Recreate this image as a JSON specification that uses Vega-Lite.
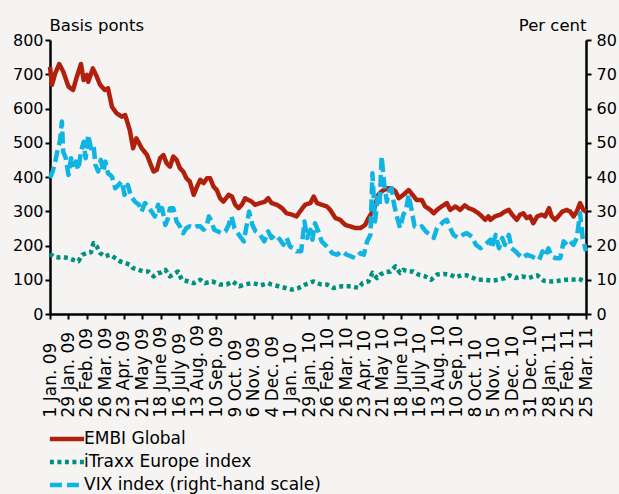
{
  "$schema": "https://vega.github.io/schema/vega-lite/v6.json",
  "width": 536,
  "height": 274,
  "autosize": "none",
  "padding": {"left": 50, "top": 40, "right": 33, "bottom": 180},
  "background": "#F5F4F2",
  "config": {
    "font": "DejaVu Sans",
    "view": {"stroke": null},
    "axis": {
      "domainColor": "#000000",
      "domainWidth": 2.5,
      "tickColor": "#000000",
      "tickWidth": 2,
      "tickSize": 5,
      "labelColor": "#000000",
      "labelFontSize": 16,
      "labelFont": "DejaVu Sans",
      "titleFont": "DejaVu Sans",
      "titleFontSize": 16.5,
      "titleFontWeight": "normal",
      "titleColor": "#000000",
      "grid": false
    },
    "legend": {
      "labelFont": "DejaVu Sans",
      "labelFontSize": 17,
      "labelColor": "#000000",
      "labelLimit": 0
    }
  },
  "datasets": {
    "series": [
      {"date": "2009-01-01", "series": "EMBI Global", "value": 722},
      {"date": "2009-01-04", "series": "EMBI Global", "value": 669},
      {"date": "2009-01-09", "series": "EMBI Global", "value": 703},
      {"date": "2009-01-15", "series": "EMBI Global", "value": 730},
      {"date": "2009-01-21", "series": "EMBI Global", "value": 708},
      {"date": "2009-01-29", "series": "EMBI Global", "value": 664},
      {"date": "2009-02-05", "series": "EMBI Global", "value": 654},
      {"date": "2009-02-10", "series": "EMBI Global", "value": 688},
      {"date": "2009-02-17", "series": "EMBI Global", "value": 730},
      {"date": "2009-02-21", "series": "EMBI Global", "value": 683},
      {"date": "2009-02-26", "series": "EMBI Global", "value": 698},
      {"date": "2009-02-28", "series": "EMBI Global", "value": 678},
      {"date": "2009-03-07", "series": "EMBI Global", "value": 717},
      {"date": "2009-03-13", "series": "EMBI Global", "value": 693},
      {"date": "2009-03-18", "series": "EMBI Global", "value": 669},
      {"date": "2009-03-25", "series": "EMBI Global", "value": 654},
      {"date": "2009-03-30", "series": "EMBI Global", "value": 659},
      {"date": "2009-04-05", "series": "EMBI Global", "value": 605},
      {"date": "2009-04-12", "series": "EMBI Global", "value": 586},
      {"date": "2009-04-20", "series": "EMBI Global", "value": 576},
      {"date": "2009-04-25", "series": "EMBI Global", "value": 581},
      {"date": "2009-05-02", "series": "EMBI Global", "value": 537},
      {"date": "2009-05-07", "series": "EMBI Global", "value": 484},
      {"date": "2009-05-12", "series": "EMBI Global", "value": 513},
      {"date": "2009-05-20", "series": "EMBI Global", "value": 484},
      {"date": "2009-05-28", "series": "EMBI Global", "value": 465},
      {"date": "2009-06-02", "series": "EMBI Global", "value": 440},
      {"date": "2009-06-07", "series": "EMBI Global", "value": 416},
      {"date": "2009-06-12", "series": "EMBI Global", "value": 421},
      {"date": "2009-06-17", "series": "EMBI Global", "value": 455},
      {"date": "2009-06-22", "series": "EMBI Global", "value": 464},
      {"date": "2009-06-27", "series": "EMBI Global", "value": 440},
      {"date": "2009-07-02", "series": "EMBI Global", "value": 430},
      {"date": "2009-07-07", "series": "EMBI Global", "value": 460},
      {"date": "2009-07-12", "series": "EMBI Global", "value": 450},
      {"date": "2009-07-17", "series": "EMBI Global", "value": 426},
      {"date": "2009-07-22", "series": "EMBI Global", "value": 416},
      {"date": "2009-07-27", "series": "EMBI Global", "value": 396},
      {"date": "2009-08-01", "series": "EMBI Global", "value": 387},
      {"date": "2009-08-07", "series": "EMBI Global", "value": 348},
      {"date": "2009-08-12", "series": "EMBI Global", "value": 372},
      {"date": "2009-08-17", "series": "EMBI Global", "value": 392},
      {"date": "2009-08-22", "series": "EMBI Global", "value": 382},
      {"date": "2009-08-27", "series": "EMBI Global", "value": 396},
      {"date": "2009-09-01", "series": "EMBI Global", "value": 396},
      {"date": "2009-09-06", "series": "EMBI Global", "value": 372},
      {"date": "2009-09-11", "series": "EMBI Global", "value": 362},
      {"date": "2009-09-16", "series": "EMBI Global", "value": 338},
      {"date": "2009-09-21", "series": "EMBI Global", "value": 328},
      {"date": "2009-09-29", "series": "EMBI Global", "value": 348},
      {"date": "2009-10-04", "series": "EMBI Global", "value": 343},
      {"date": "2009-10-09", "series": "EMBI Global", "value": 319},
      {"date": "2009-10-14", "series": "EMBI Global", "value": 309},
      {"date": "2009-10-19", "series": "EMBI Global", "value": 319},
      {"date": "2009-10-24", "series": "EMBI Global", "value": 338},
      {"date": "2009-10-29", "series": "EMBI Global", "value": 333},
      {"date": "2009-11-03", "series": "EMBI Global", "value": 328},
      {"date": "2009-11-08", "series": "EMBI Global", "value": 319},
      {"date": "2009-11-16", "series": "EMBI Global", "value": 324},
      {"date": "2009-11-23", "series": "EMBI Global", "value": 328},
      {"date": "2009-11-28", "series": "EMBI Global", "value": 338},
      {"date": "2009-12-03", "series": "EMBI Global", "value": 324},
      {"date": "2009-12-11", "series": "EMBI Global", "value": 319},
      {"date": "2009-12-19", "series": "EMBI Global", "value": 309},
      {"date": "2009-12-26", "series": "EMBI Global", "value": 294},
      {"date": "2010-01-03", "series": "EMBI Global", "value": 290},
      {"date": "2010-01-10", "series": "EMBI Global", "value": 285},
      {"date": "2010-01-15", "series": "EMBI Global", "value": 299},
      {"date": "2010-01-23", "series": "EMBI Global", "value": 319},
      {"date": "2010-01-31", "series": "EMBI Global", "value": 324},
      {"date": "2010-02-05", "series": "EMBI Global", "value": 343},
      {"date": "2010-02-10", "series": "EMBI Global", "value": 324},
      {"date": "2010-02-17", "series": "EMBI Global", "value": 319},
      {"date": "2010-02-25", "series": "EMBI Global", "value": 314},
      {"date": "2010-03-02", "series": "EMBI Global", "value": 304},
      {"date": "2010-03-10", "series": "EMBI Global", "value": 280},
      {"date": "2010-03-17", "series": "EMBI Global", "value": 275},
      {"date": "2010-03-25", "series": "EMBI Global", "value": 260},
      {"date": "2010-04-01", "series": "EMBI Global", "value": 256},
      {"date": "2010-04-09", "series": "EMBI Global", "value": 251},
      {"date": "2010-04-17", "series": "EMBI Global", "value": 251},
      {"date": "2010-04-24", "series": "EMBI Global", "value": 260},
      {"date": "2010-04-29", "series": "EMBI Global", "value": 280},
      {"date": "2010-05-07", "series": "EMBI Global", "value": 304},
      {"date": "2010-05-14", "series": "EMBI Global", "value": 348},
      {"date": "2010-05-19", "series": "EMBI Global", "value": 358},
      {"date": "2010-05-27", "series": "EMBI Global", "value": 367},
      {"date": "2010-06-03", "series": "EMBI Global", "value": 367},
      {"date": "2010-06-09", "series": "EMBI Global", "value": 358},
      {"date": "2010-06-14", "series": "EMBI Global", "value": 338},
      {"date": "2010-06-21", "series": "EMBI Global", "value": 348},
      {"date": "2010-06-29", "series": "EMBI Global", "value": 362},
      {"date": "2010-07-05", "series": "EMBI Global", "value": 348},
      {"date": "2010-07-11", "series": "EMBI Global", "value": 333},
      {"date": "2010-07-19", "series": "EMBI Global", "value": 333},
      {"date": "2010-07-24", "series": "EMBI Global", "value": 314},
      {"date": "2010-08-01", "series": "EMBI Global", "value": 304},
      {"date": "2010-08-06", "series": "EMBI Global", "value": 294},
      {"date": "2010-08-11", "series": "EMBI Global", "value": 304},
      {"date": "2010-08-18", "series": "EMBI Global", "value": 314},
      {"date": "2010-08-26", "series": "EMBI Global", "value": 324},
      {"date": "2010-08-31", "series": "EMBI Global", "value": 304},
      {"date": "2010-09-08", "series": "EMBI Global", "value": 314},
      {"date": "2010-09-15", "series": "EMBI Global", "value": 304},
      {"date": "2010-09-22", "series": "EMBI Global", "value": 317},
      {"date": "2010-09-28", "series": "EMBI Global", "value": 309},
      {"date": "2010-10-05", "series": "EMBI Global", "value": 304},
      {"date": "2010-10-13", "series": "EMBI Global", "value": 294},
      {"date": "2010-10-18", "series": "EMBI Global", "value": 285},
      {"date": "2010-10-23", "series": "EMBI Global", "value": 275},
      {"date": "2010-10-28", "series": "EMBI Global", "value": 285},
      {"date": "2010-10-31", "series": "EMBI Global", "value": 275},
      {"date": "2010-11-07", "series": "EMBI Global", "value": 285},
      {"date": "2010-11-15", "series": "EMBI Global", "value": 290},
      {"date": "2010-11-22", "series": "EMBI Global", "value": 299},
      {"date": "2010-11-28", "series": "EMBI Global", "value": 304},
      {"date": "2010-12-03", "series": "EMBI Global", "value": 290},
      {"date": "2010-12-10", "series": "EMBI Global", "value": 275},
      {"date": "2010-12-15", "series": "EMBI Global", "value": 290},
      {"date": "2010-12-20", "series": "EMBI Global", "value": 294},
      {"date": "2010-12-25", "series": "EMBI Global", "value": 280},
      {"date": "2010-12-30", "series": "EMBI Global", "value": 285},
      {"date": "2011-01-04", "series": "EMBI Global", "value": 265},
      {"date": "2011-01-10", "series": "EMBI Global", "value": 285},
      {"date": "2011-01-17", "series": "EMBI Global", "value": 290},
      {"date": "2011-01-22", "series": "EMBI Global", "value": 285},
      {"date": "2011-01-28", "series": "EMBI Global", "value": 309},
      {"date": "2011-02-01", "series": "EMBI Global", "value": 285},
      {"date": "2011-02-06", "series": "EMBI Global", "value": 275},
      {"date": "2011-02-11", "series": "EMBI Global", "value": 285},
      {"date": "2011-02-17", "series": "EMBI Global", "value": 299},
      {"date": "2011-02-24", "series": "EMBI Global", "value": 304},
      {"date": "2011-03-01", "series": "EMBI Global", "value": 299},
      {"date": "2011-03-06", "series": "EMBI Global", "value": 285},
      {"date": "2011-03-11", "series": "EMBI Global", "value": 299},
      {"date": "2011-03-16", "series": "EMBI Global", "value": 324},
      {"date": "2011-03-21", "series": "EMBI Global", "value": 304},
      {"date": "2011-03-25", "series": "EMBI Global", "value": 299},
      {"date": "2009-01-01", "series": "iTraxx Europe index", "value": 176},
      {"date": "2009-01-06", "series": "iTraxx Europe index", "value": 168},
      {"date": "2009-01-14", "series": "iTraxx Europe index", "value": 165},
      {"date": "2009-01-21", "series": "iTraxx Europe index", "value": 166},
      {"date": "2009-01-29", "series": "iTraxx Europe index", "value": 163},
      {"date": "2009-02-05", "series": "iTraxx Europe index", "value": 158},
      {"date": "2009-02-13", "series": "iTraxx Europe index", "value": 154},
      {"date": "2009-02-19", "series": "iTraxx Europe index", "value": 173},
      {"date": "2009-02-26", "series": "iTraxx Europe index", "value": 178},
      {"date": "2009-03-04", "series": "iTraxx Europe index", "value": 180},
      {"date": "2009-03-08", "series": "iTraxx Europe index", "value": 207},
      {"date": "2009-03-13", "series": "iTraxx Europe index", "value": 197},
      {"date": "2009-03-18", "series": "iTraxx Europe index", "value": 178},
      {"date": "2009-03-25", "series": "iTraxx Europe index", "value": 168},
      {"date": "2009-04-02", "series": "iTraxx Europe index", "value": 173},
      {"date": "2009-04-10", "series": "iTraxx Europe index", "value": 163},
      {"date": "2009-04-17", "series": "iTraxx Europe index", "value": 154},
      {"date": "2009-04-25", "series": "iTraxx Europe index", "value": 149},
      {"date": "2009-05-02", "series": "iTraxx Europe index", "value": 144},
      {"date": "2009-05-07", "series": "iTraxx Europe index", "value": 134},
      {"date": "2009-05-15", "series": "iTraxx Europe index", "value": 129},
      {"date": "2009-05-23", "series": "iTraxx Europe index", "value": 124},
      {"date": "2009-05-30", "series": "iTraxx Europe index", "value": 124},
      {"date": "2009-06-07", "series": "iTraxx Europe index", "value": 110},
      {"date": "2009-06-14", "series": "iTraxx Europe index", "value": 120},
      {"date": "2009-06-17", "series": "iTraxx Europe index", "value": 120},
      {"date": "2009-06-25", "series": "iTraxx Europe index", "value": 129},
      {"date": "2009-07-02", "series": "iTraxx Europe index", "value": 110},
      {"date": "2009-07-14", "series": "iTraxx Europe index", "value": 124},
      {"date": "2009-07-20", "series": "iTraxx Europe index", "value": 100},
      {"date": "2009-07-30", "series": "iTraxx Europe index", "value": 95},
      {"date": "2009-08-07", "series": "iTraxx Europe index", "value": 90},
      {"date": "2009-08-17", "series": "iTraxx Europe index", "value": 100},
      {"date": "2009-08-24", "series": "iTraxx Europe index", "value": 90},
      {"date": "2009-09-04", "series": "iTraxx Europe index", "value": 95},
      {"date": "2009-09-16", "series": "iTraxx Europe index", "value": 86},
      {"date": "2009-09-26", "series": "iTraxx Europe index", "value": 86},
      {"date": "2009-10-05", "series": "iTraxx Europe index", "value": 95},
      {"date": "2009-10-15", "series": "iTraxx Europe index", "value": 81},
      {"date": "2009-10-25", "series": "iTraxx Europe index", "value": 87},
      {"date": "2009-11-05", "series": "iTraxx Europe index", "value": 90},
      {"date": "2009-11-17", "series": "iTraxx Europe index", "value": 84},
      {"date": "2009-11-28", "series": "iTraxx Europe index", "value": 90},
      {"date": "2009-12-03", "series": "iTraxx Europe index", "value": 86},
      {"date": "2009-12-14", "series": "iTraxx Europe index", "value": 81},
      {"date": "2009-12-24", "series": "iTraxx Europe index", "value": 76},
      {"date": "2010-01-03", "series": "iTraxx Europe index", "value": 71},
      {"date": "2010-01-13", "series": "iTraxx Europe index", "value": 76},
      {"date": "2010-01-23", "series": "iTraxx Europe index", "value": 86},
      {"date": "2010-02-05", "series": "iTraxx Europe index", "value": 95},
      {"date": "2010-02-15", "series": "iTraxx Europe index", "value": 87},
      {"date": "2010-02-25", "series": "iTraxx Europe index", "value": 86},
      {"date": "2010-03-07", "series": "iTraxx Europe index", "value": 76},
      {"date": "2010-03-20", "series": "iTraxx Europe index", "value": 81},
      {"date": "2010-04-04", "series": "iTraxx Europe index", "value": 81},
      {"date": "2010-04-14", "series": "iTraxx Europe index", "value": 76},
      {"date": "2010-04-20", "series": "iTraxx Europe index", "value": 90},
      {"date": "2010-04-29", "series": "iTraxx Europe index", "value": 95},
      {"date": "2010-05-05", "series": "iTraxx Europe index", "value": 120},
      {"date": "2010-05-12", "series": "iTraxx Europe index", "value": 105},
      {"date": "2010-05-17", "series": "iTraxx Europe index", "value": 115},
      {"date": "2010-05-24", "series": "iTraxx Europe index", "value": 122},
      {"date": "2010-06-01", "series": "iTraxx Europe index", "value": 124},
      {"date": "2010-06-09", "series": "iTraxx Europe index", "value": 139},
      {"date": "2010-06-16", "series": "iTraxx Europe index", "value": 120},
      {"date": "2010-06-21", "series": "iTraxx Europe index", "value": 129},
      {"date": "2010-06-29", "series": "iTraxx Europe index", "value": 124},
      {"date": "2010-07-06", "series": "iTraxx Europe index", "value": 124},
      {"date": "2010-07-14", "series": "iTraxx Europe index", "value": 115},
      {"date": "2010-07-24", "series": "iTraxx Europe index", "value": 110},
      {"date": "2010-08-02", "series": "iTraxx Europe index", "value": 100},
      {"date": "2010-08-11", "series": "iTraxx Europe index", "value": 115},
      {"date": "2010-08-21", "series": "iTraxx Europe index", "value": 117},
      {"date": "2010-08-31", "series": "iTraxx Europe index", "value": 115},
      {"date": "2010-09-08", "series": "iTraxx Europe index", "value": 107},
      {"date": "2010-09-17", "series": "iTraxx Europe index", "value": 113},
      {"date": "2010-09-25", "series": "iTraxx Europe index", "value": 113},
      {"date": "2010-10-03", "series": "iTraxx Europe index", "value": 107},
      {"date": "2010-10-11", "series": "iTraxx Europe index", "value": 100},
      {"date": "2010-10-21", "series": "iTraxx Europe index", "value": 100},
      {"date": "2010-11-02", "series": "iTraxx Europe index", "value": 97},
      {"date": "2010-11-12", "series": "iTraxx Europe index", "value": 100},
      {"date": "2010-11-22", "series": "iTraxx Europe index", "value": 105},
      {"date": "2010-11-29", "series": "iTraxx Europe index", "value": 113},
      {"date": "2010-12-08", "series": "iTraxx Europe index", "value": 105},
      {"date": "2010-12-18", "series": "iTraxx Europe index", "value": 110},
      {"date": "2010-12-28", "series": "iTraxx Europe index", "value": 105},
      {"date": "2011-01-10", "series": "iTraxx Europe index", "value": 113},
      {"date": "2011-01-20", "series": "iTraxx Europe index", "value": 97},
      {"date": "2011-02-01", "series": "iTraxx Europe index", "value": 95},
      {"date": "2011-02-11", "series": "iTraxx Europe index", "value": 97},
      {"date": "2011-02-22", "series": "iTraxx Europe index", "value": 100},
      {"date": "2011-03-04", "series": "iTraxx Europe index", "value": 100},
      {"date": "2011-03-14", "series": "iTraxx Europe index", "value": 103},
      {"date": "2011-03-24", "series": "iTraxx Europe index", "value": 95},
      {"date": "2009-01-01", "series": "VIX index (right-hand scale)", "value": 39.7},
      {"date": "2009-01-05", "series": "VIX index (right-hand scale)", "value": 41.6},
      {"date": "2009-01-09", "series": "VIX index (right-hand scale)", "value": 44.5},
      {"date": "2009-01-13", "series": "VIX index (right-hand scale)", "value": 48.4},
      {"date": "2009-01-16", "series": "VIX index (right-hand scale)", "value": 50.3},
      {"date": "2009-01-19", "series": "VIX index (right-hand scale)", "value": 56.2},
      {"date": "2009-01-21", "series": "VIX index (right-hand scale)", "value": 47.4},
      {"date": "2009-01-25", "series": "VIX index (right-hand scale)", "value": 45.5},
      {"date": "2009-01-29", "series": "VIX index (right-hand scale)", "value": 40.6},
      {"date": "2009-02-02", "series": "VIX index (right-hand scale)", "value": 45.5},
      {"date": "2009-02-05", "series": "VIX index (right-hand scale)", "value": 43.5},
      {"date": "2009-02-09", "series": "VIX index (right-hand scale)", "value": 44.5},
      {"date": "2009-02-13", "series": "VIX index (right-hand scale)", "value": 42.1},
      {"date": "2009-02-17", "series": "VIX index (right-hand scale)", "value": 47.4},
      {"date": "2009-02-21", "series": "VIX index (right-hand scale)", "value": 50.3},
      {"date": "2009-02-24", "series": "VIX index (right-hand scale)", "value": 45.5},
      {"date": "2009-02-28", "series": "VIX index (right-hand scale)", "value": 52.3},
      {"date": "2009-03-04", "series": "VIX index (right-hand scale)", "value": 48.4},
      {"date": "2009-03-08", "series": "VIX index (right-hand scale)", "value": 49.4},
      {"date": "2009-03-11", "series": "VIX index (right-hand scale)", "value": 43.5},
      {"date": "2009-03-15", "series": "VIX index (right-hand scale)", "value": 41.6},
      {"date": "2009-03-19", "series": "VIX index (right-hand scale)", "value": 45},
      {"date": "2009-03-23", "series": "VIX index (right-hand scale)", "value": 41.6},
      {"date": "2009-03-26", "series": "VIX index (right-hand scale)", "value": 44.5},
      {"date": "2009-03-30", "series": "VIX index (right-hand scale)", "value": 41.1},
      {"date": "2009-04-05", "series": "VIX index (right-hand scale)", "value": 40.1},
      {"date": "2009-04-10", "series": "VIX index (right-hand scale)", "value": 36.7},
      {"date": "2009-04-15", "series": "VIX index (right-hand scale)", "value": 37.7},
      {"date": "2009-04-20", "series": "VIX index (right-hand scale)", "value": 38.7},
      {"date": "2009-04-24", "series": "VIX index (right-hand scale)", "value": 34.8},
      {"date": "2009-04-29", "series": "VIX index (right-hand scale)", "value": 37.7},
      {"date": "2009-05-04", "series": "VIX index (right-hand scale)", "value": 34.3},
      {"date": "2009-05-10", "series": "VIX index (right-hand scale)", "value": 32.8},
      {"date": "2009-05-16", "series": "VIX index (right-hand scale)", "value": 31.9},
      {"date": "2009-05-20", "series": "VIX index (right-hand scale)", "value": 29.9},
      {"date": "2009-05-25", "series": "VIX index (right-hand scale)", "value": 32.4},
      {"date": "2009-05-30", "series": "VIX index (right-hand scale)", "value": 31.4},
      {"date": "2009-06-04", "series": "VIX index (right-hand scale)", "value": 29.9},
      {"date": "2009-06-09", "series": "VIX index (right-hand scale)", "value": 28.5},
      {"date": "2009-06-14", "series": "VIX index (right-hand scale)", "value": 31.9},
      {"date": "2009-06-17", "series": "VIX index (right-hand scale)", "value": 29},
      {"date": "2009-06-20", "series": "VIX index (right-hand scale)", "value": 30.9},
      {"date": "2009-06-25", "series": "VIX index (right-hand scale)", "value": 26},
      {"date": "2009-06-29", "series": "VIX index (right-hand scale)", "value": 28},
      {"date": "2009-07-02", "series": "VIX index (right-hand scale)", "value": 30.9},
      {"date": "2009-07-07", "series": "VIX index (right-hand scale)", "value": 30.9},
      {"date": "2009-07-12", "series": "VIX index (right-hand scale)", "value": 27},
      {"date": "2009-07-17", "series": "VIX index (right-hand scale)", "value": 25.6},
      {"date": "2009-07-22", "series": "VIX index (right-hand scale)", "value": 23.6},
      {"date": "2009-07-27", "series": "VIX index (right-hand scale)", "value": 25.1},
      {"date": "2009-08-01", "series": "VIX index (right-hand scale)", "value": 25.6},
      {"date": "2009-08-07", "series": "VIX index (right-hand scale)", "value": 25.1},
      {"date": "2009-08-12", "series": "VIX index (right-hand scale)", "value": 25.6},
      {"date": "2009-08-17", "series": "VIX index (right-hand scale)", "value": 25.6},
      {"date": "2009-08-22", "series": "VIX index (right-hand scale)", "value": 24.6},
      {"date": "2009-08-27", "series": "VIX index (right-hand scale)", "value": 26},
      {"date": "2009-08-30", "series": "VIX index (right-hand scale)", "value": 28.5},
      {"date": "2009-09-03", "series": "VIX index (right-hand scale)", "value": 27},
      {"date": "2009-09-07", "series": "VIX index (right-hand scale)", "value": 24.6},
      {"date": "2009-09-13", "series": "VIX index (right-hand scale)", "value": 24.1},
      {"date": "2009-09-18", "series": "VIX index (right-hand scale)", "value": 23.6},
      {"date": "2009-09-24", "series": "VIX index (right-hand scale)", "value": 24.1},
      {"date": "2009-09-29", "series": "VIX index (right-hand scale)", "value": 26},
      {"date": "2009-10-03", "series": "VIX index (right-hand scale)", "value": 28.5},
      {"date": "2009-10-08", "series": "VIX index (right-hand scale)", "value": 25.1},
      {"date": "2009-10-13", "series": "VIX index (right-hand scale)", "value": 23.6},
      {"date": "2009-10-18", "series": "VIX index (right-hand scale)", "value": 22.2},
      {"date": "2009-10-22", "series": "VIX index (right-hand scale)", "value": 21.2},
      {"date": "2009-10-26", "series": "VIX index (right-hand scale)", "value": 25.6},
      {"date": "2009-10-30", "series": "VIX index (right-hand scale)", "value": 29.9},
      {"date": "2009-11-04", "series": "VIX index (right-hand scale)", "value": 26},
      {"date": "2009-11-09", "series": "VIX index (right-hand scale)", "value": 24.1},
      {"date": "2009-11-16", "series": "VIX index (right-hand scale)", "value": 23.1},
      {"date": "2009-11-22", "series": "VIX index (right-hand scale)", "value": 21.2},
      {"date": "2009-11-28", "series": "VIX index (right-hand scale)", "value": 24.1},
      {"date": "2009-12-03", "series": "VIX index (right-hand scale)", "value": 22.2},
      {"date": "2009-12-09", "series": "VIX index (right-hand scale)", "value": 23.1},
      {"date": "2009-12-16", "series": "VIX index (right-hand scale)", "value": 21.7},
      {"date": "2009-12-21", "series": "VIX index (right-hand scale)", "value": 20.2},
      {"date": "2009-12-26", "series": "VIX index (right-hand scale)", "value": 22.2},
      {"date": "2009-12-31", "series": "VIX index (right-hand scale)", "value": 19.7},
      {"date": "2010-01-05", "series": "VIX index (right-hand scale)", "value": 19.2},
      {"date": "2010-01-10", "series": "VIX index (right-hand scale)", "value": 18.3},
      {"date": "2010-01-17", "series": "VIX index (right-hand scale)", "value": 18.3},
      {"date": "2010-01-22", "series": "VIX index (right-hand scale)", "value": 27},
      {"date": "2010-01-26", "series": "VIX index (right-hand scale)", "value": 22.2},
      {"date": "2010-01-31", "series": "VIX index (right-hand scale)", "value": 24.6},
      {"date": "2010-02-03", "series": "VIX index (right-hand scale)", "value": 21.7},
      {"date": "2010-02-07", "series": "VIX index (right-hand scale)", "value": 26.5},
      {"date": "2010-02-12", "series": "VIX index (right-hand scale)", "value": 24.1},
      {"date": "2010-02-17", "series": "VIX index (right-hand scale)", "value": 21.2},
      {"date": "2010-02-25", "series": "VIX index (right-hand scale)", "value": 19.7},
      {"date": "2010-03-05", "series": "VIX index (right-hand scale)", "value": 17.8},
      {"date": "2010-03-12", "series": "VIX index (right-hand scale)", "value": 17.3},
      {"date": "2010-03-20", "series": "VIX index (right-hand scale)", "value": 18.3},
      {"date": "2010-03-27", "series": "VIX index (right-hand scale)", "value": 17.3},
      {"date": "2010-04-03", "series": "VIX index (right-hand scale)", "value": 16.8},
      {"date": "2010-04-09", "series": "VIX index (right-hand scale)", "value": 16.3},
      {"date": "2010-04-17", "series": "VIX index (right-hand scale)", "value": 17.8},
      {"date": "2010-04-22", "series": "VIX index (right-hand scale)", "value": 17.3},
      {"date": "2010-04-27", "series": "VIX index (right-hand scale)", "value": 21.2},
      {"date": "2010-05-02", "series": "VIX index (right-hand scale)", "value": 23.1},
      {"date": "2010-05-05", "series": "VIX index (right-hand scale)", "value": 41.1},
      {"date": "2010-05-09", "series": "VIX index (right-hand scale)", "value": 27},
      {"date": "2010-05-13", "series": "VIX index (right-hand scale)", "value": 34},
      {"date": "2010-05-16", "series": "VIX index (right-hand scale)", "value": 31.9},
      {"date": "2010-05-19", "series": "VIX index (right-hand scale)", "value": 46},
      {"date": "2010-05-23", "series": "VIX index (right-hand scale)", "value": 37.7},
      {"date": "2010-05-27", "series": "VIX index (right-hand scale)", "value": 32.8},
      {"date": "2010-05-30", "series": "VIX index (right-hand scale)", "value": 35.8},
      {"date": "2010-06-03", "series": "VIX index (right-hand scale)", "value": 36.7},
      {"date": "2010-06-07", "series": "VIX index (right-hand scale)", "value": 31.9},
      {"date": "2010-06-11", "series": "VIX index (right-hand scale)", "value": 28.5},
      {"date": "2010-06-16", "series": "VIX index (right-hand scale)", "value": 25.1},
      {"date": "2010-06-21", "series": "VIX index (right-hand scale)", "value": 29},
      {"date": "2010-06-25", "series": "VIX index (right-hand scale)", "value": 30.4},
      {"date": "2010-06-29", "series": "VIX index (right-hand scale)", "value": 34.8},
      {"date": "2010-07-03", "series": "VIX index (right-hand scale)", "value": 30.9},
      {"date": "2010-07-08", "series": "VIX index (right-hand scale)", "value": 25.6},
      {"date": "2010-07-14", "series": "VIX index (right-hand scale)", "value": 25.1},
      {"date": "2010-07-19", "series": "VIX index (right-hand scale)", "value": 25.6},
      {"date": "2010-07-25", "series": "VIX index (right-hand scale)", "value": 24.1},
      {"date": "2010-08-01", "series": "VIX index (right-hand scale)", "value": 23.1},
      {"date": "2010-08-06", "series": "VIX index (right-hand scale)", "value": 22.2},
      {"date": "2010-08-11", "series": "VIX index (right-hand scale)", "value": 25.1},
      {"date": "2010-08-16", "series": "VIX index (right-hand scale)", "value": 26},
      {"date": "2010-08-21", "series": "VIX index (right-hand scale)", "value": 27},
      {"date": "2010-08-26", "series": "VIX index (right-hand scale)", "value": 27.5},
      {"date": "2010-08-31", "series": "VIX index (right-hand scale)", "value": 25.1},
      {"date": "2010-09-05", "series": "VIX index (right-hand scale)", "value": 23.1},
      {"date": "2010-09-12", "series": "VIX index (right-hand scale)", "value": 22.2},
      {"date": "2010-09-19", "series": "VIX index (right-hand scale)", "value": 23.1},
      {"date": "2010-09-25", "series": "VIX index (right-hand scale)", "value": 23.6},
      {"date": "2010-10-03", "series": "VIX index (right-hand scale)", "value": 22.6},
      {"date": "2010-10-09", "series": "VIX index (right-hand scale)", "value": 20.2},
      {"date": "2010-10-16", "series": "VIX index (right-hand scale)", "value": 19.2},
      {"date": "2010-10-23", "series": "VIX index (right-hand scale)", "value": 20.2},
      {"date": "2010-10-31", "series": "VIX index (right-hand scale)", "value": 21.7},
      {"date": "2010-11-02", "series": "VIX index (right-hand scale)", "value": 19.2},
      {"date": "2010-11-08", "series": "VIX index (right-hand scale)", "value": 23.1},
      {"date": "2010-11-13", "series": "VIX index (right-hand scale)", "value": 19.2},
      {"date": "2010-11-18", "series": "VIX index (right-hand scale)", "value": 22.2},
      {"date": "2010-11-22", "series": "VIX index (right-hand scale)", "value": 20.2},
      {"date": "2010-11-28", "series": "VIX index (right-hand scale)", "value": 23.1},
      {"date": "2010-12-02", "series": "VIX index (right-hand scale)", "value": 19.2},
      {"date": "2010-12-08", "series": "VIX index (right-hand scale)", "value": 18.3},
      {"date": "2010-12-13", "series": "VIX index (right-hand scale)", "value": 17.3},
      {"date": "2010-12-19", "series": "VIX index (right-hand scale)", "value": 16.3},
      {"date": "2010-12-25", "series": "VIX index (right-hand scale)", "value": 17.3},
      {"date": "2011-01-02", "series": "VIX index (right-hand scale)", "value": 16.8},
      {"date": "2011-01-07", "series": "VIX index (right-hand scale)", "value": 16.3},
      {"date": "2011-01-13", "series": "VIX index (right-hand scale)", "value": 15.8},
      {"date": "2011-01-18", "series": "VIX index (right-hand scale)", "value": 18.3},
      {"date": "2011-01-22", "series": "VIX index (right-hand scale)", "value": 16.8},
      {"date": "2011-01-27", "series": "VIX index (right-hand scale)", "value": 19.2},
      {"date": "2011-02-01", "series": "VIX index (right-hand scale)", "value": 16.8},
      {"date": "2011-02-07", "series": "VIX index (right-hand scale)", "value": 16.3},
      {"date": "2011-02-14", "series": "VIX index (right-hand scale)", "value": 16.3},
      {"date": "2011-02-19", "series": "VIX index (right-hand scale)", "value": 21.2},
      {"date": "2011-02-24", "series": "VIX index (right-hand scale)", "value": 20.2},
      {"date": "2011-03-01", "series": "VIX index (right-hand scale)", "value": 21.2},
      {"date": "2011-03-06", "series": "VIX index (right-hand scale)", "value": 20.2},
      {"date": "2011-03-11", "series": "VIX index (right-hand scale)", "value": 22.2},
      {"date": "2011-03-16", "series": "VIX index (right-hand scale)", "value": 29.4},
      {"date": "2011-03-20", "series": "VIX index (right-hand scale)", "value": 22.2},
      {"date": "2011-03-25", "series": "VIX index (right-hand scale)", "value": 18.3}
    ]
  },
  "data": {"name": "series"},
  "encoding": {
    "x": {
      "field": "date",
      "type": "temporal",
      "scale": {
        "type": "utc",
        "domain": [
          {"year": 2009, "month": 1, "date": 1, "utc": true},
          {"year": 2011, "month": 3, "date": 25, "utc": true}
        ]
      },
      "axis": {
        "title": null,
        "values": [
          {"year": 2009, "month": 1, "date": 1, "utc": true},
          {"year": 2009, "month": 1, "date": 29, "utc": true},
          {"year": 2009, "month": 2, "date": 26, "utc": true},
          {"year": 2009, "month": 3, "date": 26, "utc": true},
          {"year": 2009, "month": 4, "date": 23, "utc": true},
          {"year": 2009, "month": 5, "date": 21, "utc": true},
          {"year": 2009, "month": 6, "date": 18, "utc": true},
          {"year": 2009, "month": 7, "date": 16, "utc": true},
          {"year": 2009, "month": 8, "date": 13, "utc": true},
          {"year": 2009, "month": 9, "date": 10, "utc": true},
          {"year": 2009, "month": 10, "date": 9, "utc": true},
          {"year": 2009, "month": 11, "date": 6, "utc": true},
          {"year": 2009, "month": 12, "date": 4, "utc": true},
          {"year": 2010, "month": 1, "date": 1, "utc": true},
          {"year": 2010, "month": 1, "date": 29, "utc": true},
          {"year": 2010, "month": 2, "date": 26, "utc": true},
          {"year": 2010, "month": 3, "date": 26, "utc": true},
          {"year": 2010, "month": 4, "date": 23, "utc": true},
          {"year": 2010, "month": 5, "date": 21, "utc": true},
          {"year": 2010, "month": 6, "date": 18, "utc": true},
          {"year": 2010, "month": 7, "date": 16, "utc": true},
          {"year": 2010, "month": 8, "date": 13, "utc": true},
          {"year": 2010, "month": 9, "date": 10, "utc": true},
          {"year": 2010, "month": 10, "date": 8, "utc": true},
          {"year": 2010, "month": 11, "date": 5, "utc": true},
          {"year": 2010, "month": 12, "date": 3, "utc": true},
          {"year": 2010, "month": 12, "date": 31, "utc": true},
          {"year": 2011, "month": 1, "date": 28, "utc": true},
          {"year": 2011, "month": 2, "date": 25, "utc": true},
          {"year": 2011, "month": 3, "date": 25, "utc": true}
        ],
        "labelExpr": "utcdate(datum.value) + ' ' + ['Jan.','Feb.','Mar.','Apr.','May','June','July','Aug.','Sep.','Oct.','Nov.','Dec.'][utcmonth(datum.value)] + ' ' + utcFormat(datum.value, '%y')",
        "labelAngle": -90,
        "labelAlign": "left",
        "labelBaseline": "middle",
        "labelPadding": 98,
        "labelFontSize": 17,
        "labelOverlap": false,
        "labelBound": false,
        "labelFlush": false
      }
    },
    "color": {
      "field": "series",
      "type": "nominal",
      "scale": {
        "domain": ["EMBI Global", "iTraxx Europe index", "VIX index (right-hand scale)"],
        "range": ["#B0200C", "#00907E", "#10B4E2"]
      },
      "legend": {
        "title": null,
        "orient": "none",
        "legendX": 5,
        "legendY": 387,
        "symbolType": "M-1.8,0H1.8",
        "symbolSize": 361,
        "symbolStrokeWidth": 4.5,
        "labelOffset": 5,
        "labelLimit": 0,
        "rowPadding": 2,
        "padding": 0
      }
    },
    "strokeDash": {
      "field": "series",
      "type": "nominal",
      "scale": {
        "domain": ["EMBI Global", "iTraxx Europe index", "VIX index (right-hand scale)"],
        "range": [[1, 0], [4, 3.5], [12, 5]]
      },
      "legend": {
        "title": null,
        "orient": "none",
        "legendX": 5,
        "legendY": 387,
        "symbolType": "M-1.8,0H1.8",
        "symbolSize": 361,
        "symbolStrokeWidth": 4.5,
        "labelOffset": 5,
        "labelLimit": 0,
        "rowPadding": 2,
        "padding": 0
      }
    }
  },
  "layer": [
    {
      "transform": [{"filter": "datum.series !== 'VIX index (right-hand scale)'"}],
      "mark": {"type": "line", "strokeWidth": 4.5, "strokeJoin": "round"},
      "encoding": {
        "y": {
          "field": "value",
          "type": "quantitative",
          "scale": {"domain": [0, 800], "nice": false},
          "axis": {
            "title": "Basis ponts",
            "values": [0, 100, 200, 300, 400, 500, 600, 700, 800],
            "labelPadding": 2,
            "titleAngle": 0,
            "titleAlign": "left",
            "titleBaseline": "alphabetic",
            "titleX": -1,
            "titleY": -10
          }
        }
      }
    },
    {
      "transform": [{"filter": "datum.series === 'VIX index (right-hand scale)'"}],
      "mark": {"type": "line", "strokeWidth": 4.5, "strokeJoin": "round"},
      "encoding": {
        "y": {
          "field": "value",
          "type": "quantitative",
          "scale": {"domain": [0, 80], "nice": false},
          "axis": {
            "orient": "right",
            "title": "Per cent",
            "values": [0, 10, 20, 30, 40, 50, 60, 70, 80],
            "labelPadding": 5,
            "titleAngle": 0,
            "titleAlign": "right",
            "titleBaseline": "alphabetic",
            "titleX": 0,
            "titleY": -10
          }
        }
      }
    }
  ],
  "resolve": {"scale": {"y": "independent"}}
}
